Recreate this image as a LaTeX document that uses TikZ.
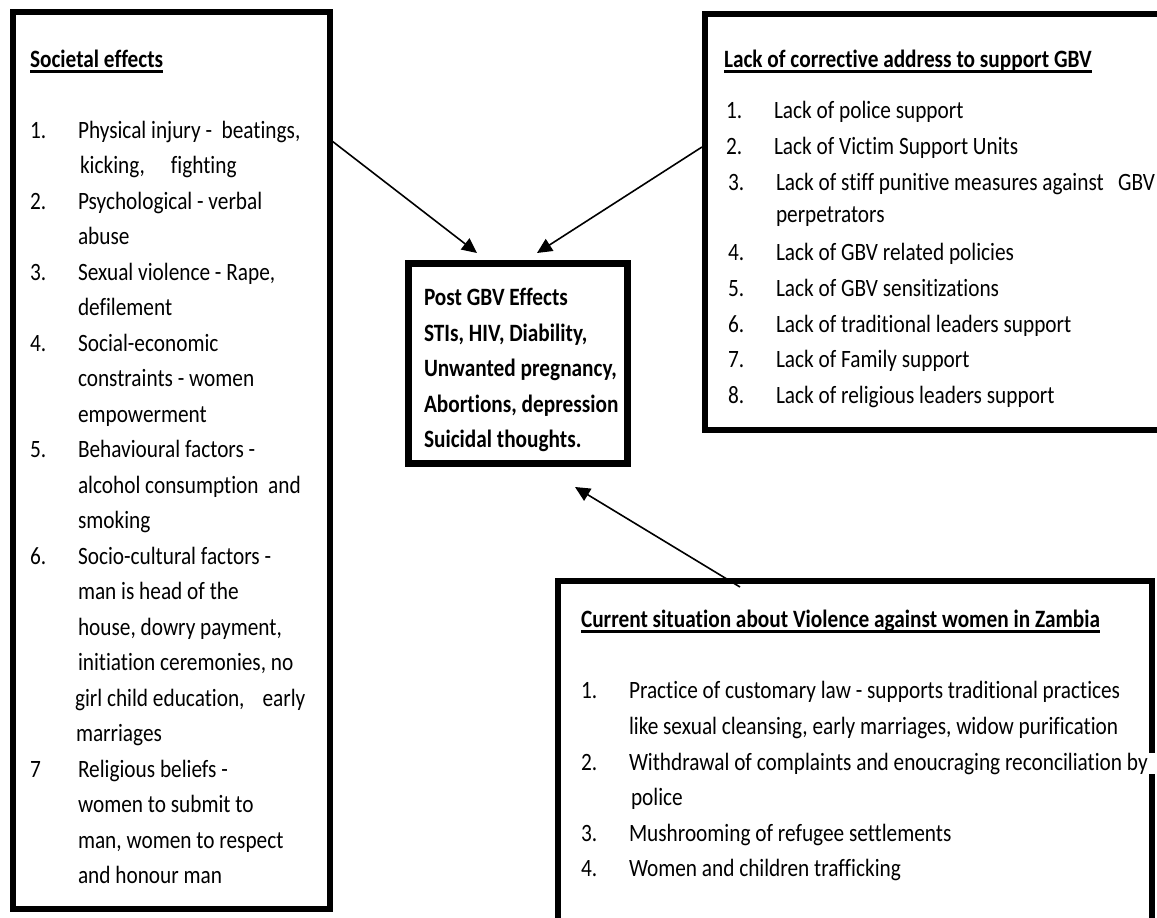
\documentclass[tikz,border=0pt]{standalone}
\usepackage{graphicx}
\usepackage{fontspec}
\setmainfont[Ligatures={NoCommon}]{Carlito}
\usetikzlibrary{arrows.meta}
\newcommand\sx[1]{\scalebox{1}[1.17]{#1}}
\newcommand\ulx[1]{\setbox0\hbox{#1}\rlap{\rule[-4.7pt]{\wd0}{1.9pt}}\box0}
\newcommand\lineat[4]{\node[txt] (#1) at (#2,#3) {\sx{#4}};}
\tikzset{
  bigbox/.style={draw=black, line width=6pt, inner sep=0pt, outer sep=0pt},
  txt/.style={anchor=base west, inner sep=0pt, outer sep=0pt},
  conn/.style={line width=1.6pt, -{Triangle[length=15pt,width=14pt]}},
}
\begin{document}
\begin{tikzpicture}[x=1pt, y=-1pt, font=\fontsize{21.3}{35.5}\selectfont]
\useasboundingbox (0,0) rectangle (1157,918);
\clip (0,0) rectangle (1157,918);
\fill[white] (0,0) rectangle (1157,918);

% boxes
\node[bigbox, minimum width=316.5pt, minimum height=897pt] (left) at (171.25,460) {};
\node[bigbox, minimum width=495.5pt, minimum height=416pt] (right) at (952.25,222) {};
\node[bigbox, minimum width=594.5pt, minimum height=379.5pt] (bottom) at (854.75,770.25) {};
\node[bigbox, line width=7pt, minimum width=219pt, minimum height=200pt] (center) at (517.5,363) {};

% left box text
\lineat{lh}{30}{67}{\ulx{\bfseries Societal effects}}
\lineat{ln1}{30}{138}{1.}
\lineat{lt1}{78}{138}{Physical injury -\ \ beatings,}
\lineat{lt1b}{80}{173.5}{kicking,\hspace{26pt}fighting}
\lineat{ln2}{30}{209}{2.}
\lineat{lt2}{78}{209}{Psychological - verbal}
\lineat{lt2b}{78}{244.5}{abuse}
\lineat{ln3}{30}{280}{3.}
\lineat{lt3}{78}{280}{Sexual violence - Rape,}
\lineat{lt3b}{78}{315.5}{defilement}
\lineat{ln4}{30}{351}{4.}
\lineat{lt4}{78}{351}{Social-economic}
\lineat{lt4b}{78}{386.5}{constraints - women}
\lineat{lt4c}{78}{422}{empowerment}
\lineat{ln5}{30}{457.5}{5.}
\lineat{lt5}{78}{457.5}{Behavioural factors -}
\lineat{lt5b}{78}{493}{alcohol consumption\ \ and}
\lineat{lt5c}{78}{528.5}{smoking}
\lineat{ln6}{30}{564}{6.}
\lineat{lt6}{78}{564}{Socio-cultural factors -}
\lineat{lt6b}{78}{599.5}{man is head of the}
\lineat{lt6c}{78}{635}{house, dowry payment,}
\lineat{lt6d}{78}{670.5}{initiation ceremonies, no}
\lineat{lt6e}{75}{706}{girl child education,\hspace{18pt}early}
\lineat{lt6f}{76}{741.5}{marriages}
\lineat{ln7}{30}{777}{7}
\lineat{lt7}{78}{777}{Religious beliefs -}
\lineat{lt7b}{78}{812.5}{women to submit to}
\lineat{lt7c}{78}{848}{man, women to respect}
\lineat{lt7d}{78}{883.5}{and honour man}

% right box text
\lineat{rh}{724}{67}{\ulx{\bfseries Lack of corrective address to support GBV}}
\lineat{rn1}{726}{118}{1.}
\lineat{rt1}{774}{118}{Lack of police support}
\lineat{rn2}{726}{154}{2.}
\lineat{rt2}{774}{154}{Lack of Victim Support Units}
\lineat{rn3}{728}{190}{3.}
\lineat{rt3}{776}{190}{Lack of stiff punitive measures against\ \ \ GBV}
\lineat{rt3b}{776}{222}{perpetrators}
\lineat{rn4}{728}{260}{4.}
\lineat{rt4}{776}{260}{Lack of GBV related policies}
\lineat{rn5}{728}{296}{5.}
\lineat{rt5}{776}{296}{Lack of GBV sensitizations}
\lineat{rn6}{728}{332}{6.}
\lineat{rt6}{776}{332}{Lack of traditional leaders support}
\lineat{rn7}{728}{367}{7.}
\lineat{rt7}{776}{367}{Lack of Family support}
\lineat{rn8}{728}{403}{8.}
\lineat{rt8}{776}{403}{Lack of religious leaders support}

% bottom box text
\lineat{bh}{581}{627}{\ulx{\bfseries Current situation about Violence against women in Zambia}}
\lineat{bn1}{581}{698}{1.}
\lineat{bt1}{629}{698}{Practice of customary law - supports traditional practices}
\lineat{bt1b}{629}{734}{like sexual cleansing, early marriages, widow purification}
\lineat{bn2}{581}{770}{2.}
\node[txt, fill=white] (bt2) at (629,770) {\sx{Withdrawal of complaints and enoucraging reconciliation by\hspace{7pt}}};
\lineat{bt2b}{631}{805}{police}
\lineat{bn3}{581}{841}{3.}
\lineat{bt3}{629}{841}{Mushrooming of refugee settlements}
\lineat{bn4}{581}{876}{4.}
\lineat{bt4}{629}{876}{Women and children trafficking}

% center box text
\lineat{c1}{424}{305}{\bfseries Post GBV Effects}
\lineat{c2}{424}{341}{\bfseries STIs, HIV, Diability,}
\lineat{c3}{424}{376}{\bfseries Unwanted pregnancy,}
\lineat{c4}{424}{412}{\bfseries Abortions, depression}
\lineat{c5}{424}{447}{\bfseries Suicidal thoughts.}

% connectors
\coordinate (s1) at (332,141);
\coordinate (t1) at (477,253);
\coordinate (s2) at (702,147);
\coordinate (t2) at (537,253);
\coordinate (s3) at (740,587);
\coordinate (t3) at (575,487);
\draw[conn] (s1) -- (t1);
\draw[conn] (s2) -- (t2);
\draw[conn] (s3) -- (t3);
\end{tikzpicture}
\end{document}
